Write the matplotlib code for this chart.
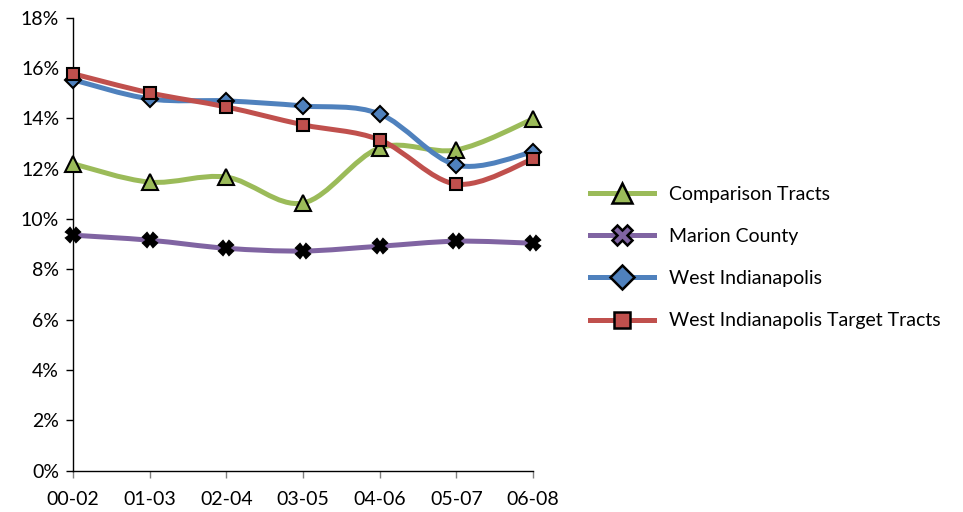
import matplotlib
matplotlib.use("Agg")
import matplotlib.pyplot as plt
import numpy as np
from matplotlib.path import Path
from matplotlib.patches import PathPatch
from matplotlib.lines import Line2D
from matplotlib.ticker import PercentFormatter

periods = ["00-02", "01-03", "02-04", "03-05", "04-06", "05-07", "06-08"]
comparison = [12.2, 11.47, 11.67, 10.64, 12.83, 12.75, 13.98]
marion = [9.36, 9.16, 8.84, 8.73, 8.92, 9.12, 9.04]
west_indy = [15.54, 14.78, 14.70, 14.50, 14.18, 12.15, 12.67]
target = [15.78, 15.02, 14.46, 13.75, 13.15, 11.39, 12.39]

# name, values, line colour, marker, marker size, marker face on the plot
series = [
    ("Comparison Tracts", comparison, "#9bbb59", "^", 11, "#9bbb59"),
    ("Marion County", marion, "#8064a2", "X", 10, "black"),
    ("West Indianapolis", west_indy, "#4f81bd", "D", 8, "#4f81bd"),
    ("West Indianapolis Target Tracts", target, "#c0504d", "s", 8, "#c0504d"),
]


def smooth_path(x, y):
    # excel-style smoothing: catmull-rom as cubic bezier segments
    pts = np.column_stack([x, y])
    verts = [pts[0]]
    codes = [Path.MOVETO]
    n = len(pts)
    for i in range(n - 1):
        p0 = pts[max(i - 1, 0)]
        p1, p2 = pts[i], pts[i + 1]
        p3 = pts[min(i + 2, n - 1)]
        verts += [p1 + (p2 - p0) / 6, p2 - (p3 - p1) / 6, p2]
        codes += [Path.CURVE4] * 3
    return Path(verts, codes)


plt.rcParams["font.family"] = ["Lato", "DejaVu Sans"]
fig = plt.figure(figsize=(9.63, 5.12), dpi=100)
ax = fig.add_axes([0.0758, 0.081, 0.4777, 0.884])

xs = np.arange(len(periods))
handles = []
for name, vals, color, marker, ms, face in series:
    ax.add_patch(PathPatch(smooth_path(xs, vals), fill=False, edgecolor=color,
                           lw=3.6, capstyle="round", zorder=2))
    ax.plot(xs, vals, ls="none", marker=marker, ms=ms, mfc=face, mec="black",
            mew=1.5, zorder=3, clip_on=False)
    handles.append(Line2D([], [], color=color, lw=3.6, marker=marker,
                          ms=ms + 4, mfc=color, mec="black", mew=1.8))

ax.set_xlim(0, 6)
ax.set_ylim(0, 18)
ax.set_yticks(range(0, 19, 2))
ax.yaxis.set_major_formatter(PercentFormatter(decimals=0))
ax.set_xticks(xs)
ax.set_xticklabels(periods)
for side in ("top", "right"):
    ax.spines[side].set_visible(False)
for side in ("left", "bottom"):
    ax.spines[side].set_color("black")
    ax.spines[side].set_linewidth(1.0)
ax.tick_params(direction="out", length=5, width=1, colors="black",
               labelsize=14, pad=5)
ax.tick_params(axis="x", colors="#808080", labelcolor="black", pad=10)

fig.legend(handles, [s[0] for s in series], loc="center left",
           bbox_to_anchor=(0.594, 0.497), frameon=False, fontsize=14,
           handlelength=3.3, handletextpad=0.8, labelspacing=1.3)

fig.savefig("out.png", dpi=100)
